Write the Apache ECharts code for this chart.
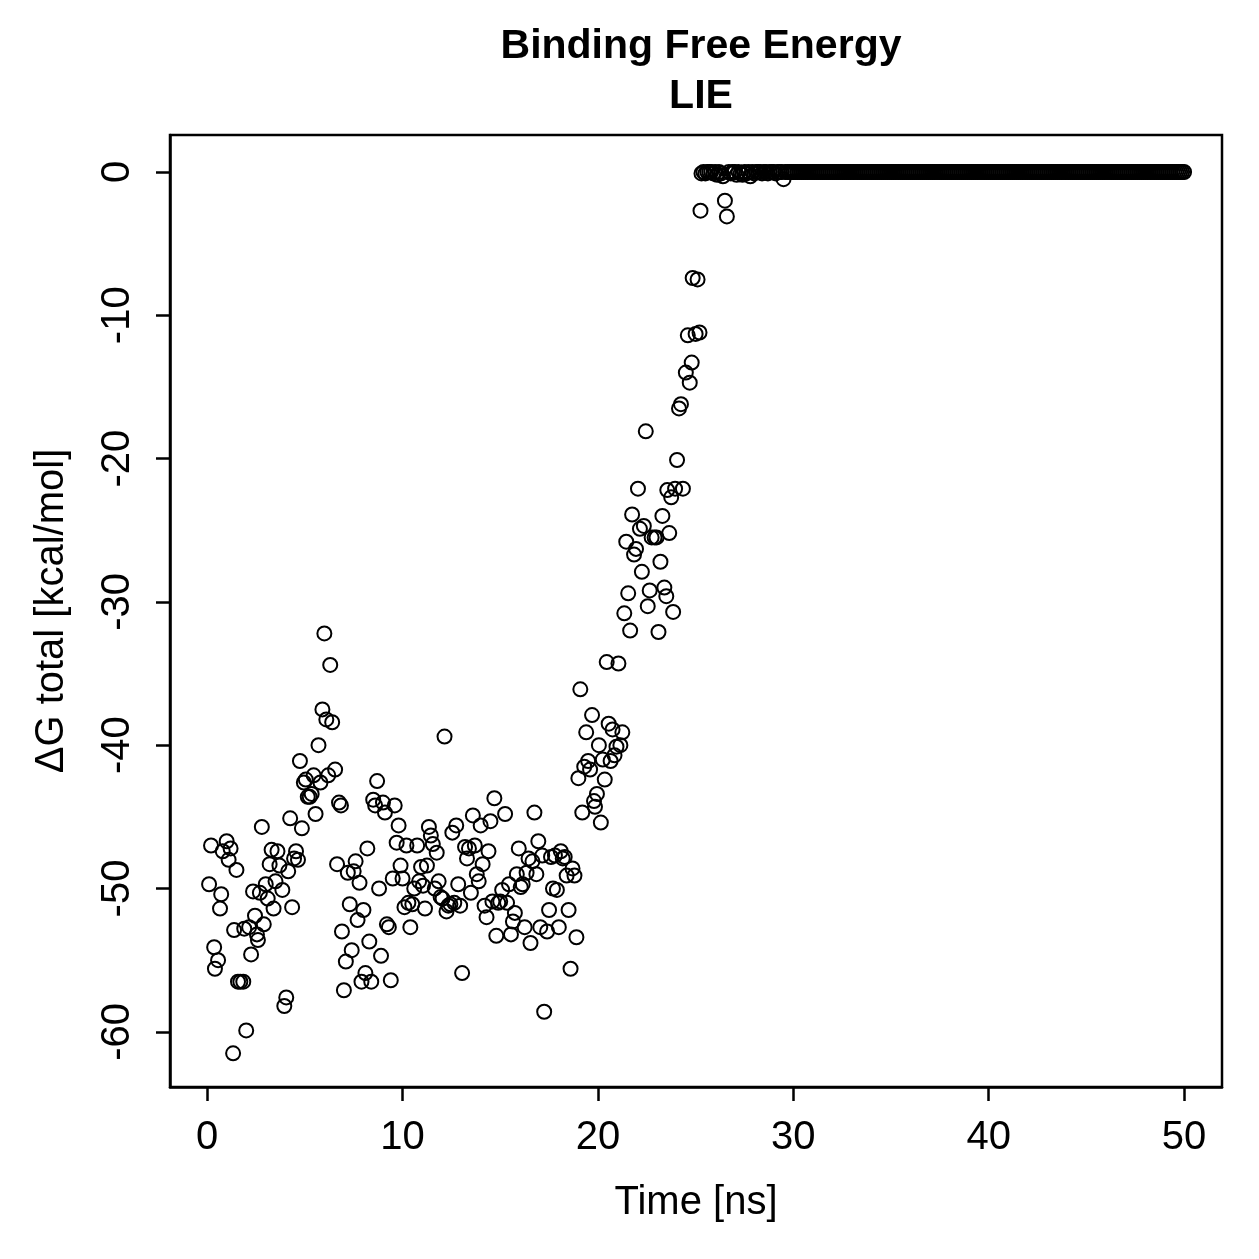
<!DOCTYPE html>
<html>
<head>
<meta charset="utf-8">
<script src="https://cdn.jsdelivr.net/npm/echarts@6/dist/echarts.min.js"></script>
<style>
  html, body { margin: 0; padding: 0; background: #fff; }
  #chart-container { width: 1259px; height: 1259px; }
</style>
</head>
<body>
<div id="chart-container"></div>
<script>
// sampled times [ns] of the unbinding part
var timeEarly = [
  0.1, 0.2, 0.36, 0.4, 0.56, 0.66, 0.72, 0.8, 1.0, 1.1,
  1.2, 1.33, 1.38, 1.5, 1.58, 1.7, 1.85, 1.9, 2.0, 2.15,
  2.25, 2.35, 2.45, 2.55, 2.6, 2.7, 2.8, 2.9, 3.0, 3.1,
  3.2, 3.3, 3.4, 3.5, 3.6, 3.7, 3.85, 3.95, 4.05, 4.15,
  4.25, 4.35, 4.45, 4.55, 4.65, 4.75, 4.85, 4.95, 5.05, 5.15,
  5.25, 5.35, 5.45, 5.55, 5.7, 5.8, 5.9, 6.0, 6.1, 6.2,
  6.3, 6.4, 6.55, 6.65, 6.75, 6.85, 6.9, 7.0, 7.1, 7.2,
  7.3, 7.4, 7.5, 7.6, 7.7, 7.8, 7.9, 8.0, 8.1, 8.2,
  8.3, 8.4, 8.5, 8.6, 8.7, 8.8, 8.9, 9.0, 9.1, 9.2,
  9.3, 9.4, 9.5, 9.6, 9.7, 9.8, 9.9, 10.0, 10.1, 10.2,
  10.3, 10.4, 10.5, 10.6, 10.75, 10.85, 10.95, 11.05, 11.15, 11.25,
  11.35, 11.45, 11.55, 11.65, 11.75, 11.85, 11.95, 12.05, 12.15, 12.25,
  12.35, 12.45, 12.55, 12.65, 12.75, 12.85, 12.95, 13.05, 13.2, 13.3,
  13.4, 13.5, 13.6, 13.7, 13.8, 13.9, 14.0, 14.1, 14.2, 14.3,
  14.4, 14.5, 14.6, 14.7, 14.8, 14.9, 15.0, 15.1, 15.25, 15.35,
  15.45, 15.55, 15.65, 15.75, 15.85, 15.95, 16.05, 16.15, 16.25, 16.35,
  16.45, 16.55, 16.65, 16.75, 16.85, 16.95, 17.05, 17.15, 17.25, 17.4,
  17.5, 17.6, 17.7, 17.8, 17.9, 18.0, 18.1, 18.2, 18.3, 18.4,
  18.5, 18.6, 18.7, 18.8, 18.9, 19.0, 19.1, 19.2, 19.3, 19.4,
  19.5, 19.6, 19.7, 19.8, 19.85, 19.95, 20.05, 20.15, 20.25, 20.35,
  20.45, 20.55, 20.65, 20.75, 20.85, 20.95, 21.05, 21.15, 21.25, 21.35,
  21.45, 21.55, 21.65, 21.75, 21.85, 21.95, 22.05, 22.15, 22.25, 22.35,
  22.45, 22.55, 22.65, 22.75, 22.9, 23.0, 23.1, 23.2, 23.3, 23.4,
  23.5, 23.55, 23.65, 23.75, 23.85, 23.95, 24.05, 24.15, 24.25, 24.35,
  24.5, 24.6, 24.7, 24.8, 24.85, 25.0, 25.1, 25.2, 25.25
];
var dGEarly = [
  -49.7, -47.0, -54.1, -55.6, -55.0, -51.4, -50.4, -47.4, -46.7, -48.0,
  -47.2, -61.5, -52.9, -48.7, -56.5, -56.5, -56.5, -52.8, -59.9, -52.7,
  -54.6, -50.2, -51.9, -53.2, -53.6, -50.3, -45.7, -52.5, -49.7, -50.7,
  -48.3, -47.3, -51.4, -49.5, -47.4, -48.4, -50.1, -58.2, -57.6, -48.8,
  -45.1, -51.3, -47.9, -47.4, -48.0, -41.1, -45.8, -42.6, -42.4, -43.6,
  -43.6, -43.4, -42.1, -44.8, -40.0, -42.6, -37.5, -32.2, -38.2, -42.1,
  -34.4, -38.4, -41.7, -48.3, -44.0, -44.2, -53.0, -57.1, -55.1, -48.9,
  -51.1, -54.3, -48.8, -48.1, -52.2, -49.6, -56.5, -51.5, -55.9, -47.2,
  -53.7, -56.5, -43.8, -44.2, -42.5, -50.0, -54.7, -44.0, -44.7, -52.5,
  -52.7, -56.4, -49.3, -44.2, -46.8, -45.6, -48.4, -49.3, -51.3, -47.0,
  -51.0, -52.7, -51.1, -50.0, -47.0, -49.5, -48.5, -49.8, -51.4, -48.4,
  -45.7, -46.3, -46.9, -50.0, -47.5, -49.5, -50.6, -50.7, -39.4, -51.6,
  -51.2, -51.1, -46.1, -51.0, -45.6, -49.7, -51.2, -55.9, -47.1, -47.9,
  -47.2, -50.3, -44.9, -47.0, -49.0, -49.5, -45.6, -48.3, -51.2, -52.0,
  -47.4, -45.3, -50.9, -43.7, -53.3, -51.0, -50.9, -50.1, -44.8, -51.0,
  -49.7, -53.2, -52.3, -51.7, -49.0, -47.2, -49.9, -49.7, -52.7, -48.9,
  -47.9, -53.8, -48.1, -44.7, -49.0, -46.7, -52.7, -47.7, -58.6, -53.0,
  -51.5, -47.8, -50.0, -47.7, -50.1, -52.7, -47.4, -47.9, -47.8, -49.1,
  -51.5, -55.6, -48.6, -49.1, -53.4, -42.3, -36.1, -44.7, -41.5, -39.1,
  -41.1, -41.7, -37.9, -43.9, -44.3, -43.4, -40.0, -45.4, -41.0, -42.4,
  -34.2, -38.5, -41.1, -38.9, -40.7, -40.1, -34.3, -40.0, -39.1, -30.8,
  -25.8, -29.4, -32.0, -23.9, -26.7, -26.3, -22.1, -24.9, -27.9, -24.7,
  -18.1, -30.3, -29.2, -25.5, -25.5, -25.5, -32.1, -27.2, -24.0, -29.0,
  -29.6, -22.2, -25.2, -22.7, -30.7, -22.1, -20.1, -16.5, -16.2, -22.1,
  -14.0, -11.4, -14.7, -13.3, -7.4, -11.3, -7.5, -11.2, -2.7
];
// after unbinding: one frame every 0.1 ns from 25.3 ns to 50 ns
var tailStart = 25.3;
var tailStep = 0.1;
var dGTail = [
  -0.1, 0, -0.1, 0, 0, 0, -0.1, 0, -0.2, 0,
  -0.1, -0.3, -2.0, -3.1, 0, -0.1, 0, 0, -0.2, 0,
  -0.1, -0.2, 0, -0.1, 0, -0.3, 0, -0.1, 0, 0,
  0, -0.1, 0, 0, -0.1, 0, 0, 0, -0.1, 0,
  0, 0, -0.5,
  0, 0, 0, 0, 0, 0, 0, 0, 0, 0,
  0, 0, 0, 0, 0, 0, 0, 0, 0, 0,
  0, 0, 0, 0, 0, 0, 0, 0, 0, 0,
  0, 0, 0, 0, 0, 0, 0, 0, 0, 0,
  0, 0, 0, 0, 0, 0, 0, 0, 0, 0,
  0, 0, 0, 0, 0, 0, 0, 0, 0, 0,
  0, 0, 0, 0, 0, 0, 0, 0, 0, 0,
  0, 0, 0, 0, 0, 0, 0, 0, 0, 0,
  0, 0, 0, 0, 0, 0, 0, 0, 0, 0,
  0, 0, 0, 0, 0, 0, 0, 0, 0, 0,
  0, 0, 0, 0, 0, 0, 0, 0, 0, 0,
  0, 0, 0, 0, 0, 0, 0, 0, 0, 0,
  0, 0, 0, 0, 0, 0, 0, 0, 0, 0,
  0, 0, 0, 0, 0, 0, 0, 0, 0, 0,
  0, 0, 0, 0, 0, 0, 0, 0, 0, 0,
  0, 0, 0, 0, 0, 0, 0, 0, 0, 0,
  0, 0, 0, 0, 0, 0, 0, 0, 0, 0,
  0, 0, 0, 0, 0, 0, 0, 0, 0, 0,
  0, 0, 0, 0, 0, 0, 0, 0, 0, 0,
  0, 0, 0, 0, 0, 0, 0, 0, 0, 0,
  0, 0, 0, 0, 0
];
var xTicks = [0, 10, 20, 30, 40, 50];
var yTicks = [-60, -50, -40, -30, -20, -10, 0];

var points = [];
for (var i = 0; i < timeEarly.length; i++) {
  points.push([timeEarly[i], dGEarly[i]]);
}
for (var j = 0; j < dGTail.length; j++) {
  points.push([+(tailStart + j * tailStep).toFixed(2), dGTail[j]]);
}

var dom = document.getElementById('chart-container');
var myChart = echarts.init(dom, null, { renderer: 'canvas' });
var font = 'Liberation Sans';

var option = {
  animation: false,
  backgroundColor: '#fff',
  title: {
    text: 'Binding Free Energy\nLIE',
    left: 696,
    top: 17,
    textAlign: 'center',
    textStyle: {
      fontFamily: font,
      fontWeight: 'bold',
      fontSize: 41,
      lineHeight: 50,
      color: '#000'
    }
  },
  grid: {
    left: 170,
    top: 135,
    width: 1052,
    height: 952,
    show: true,
    borderColor: '#000',
    borderWidth: 2.5,
    backgroundColor: 'transparent'
  },
  xAxis: {
    type: 'value',
    min: -1.9,
    max: 51.94,
    name: 'Time [ns]',
    nameLocation: 'middle',
    nameGap: 96,
    nameTextStyle: { fontFamily: font, fontSize: 40, color: '#000' },
    splitLine: { show: false },
    axisLine: { show: true, onZero: false, lineStyle: { color: '#000', width: 2.5 } },
    axisTick: {
      show: true,
      customValues: xTicks,
      length: 14,
      lineStyle: { color: '#000', width: 2.5 }
    },
    axisLabel: {
      customValues: xTicks,
      margin: 31,
      fontFamily: font,
      fontSize: 40,
      color: '#000'
    }
  },
  yAxis: {
    type: 'value',
    min: -63.85,
    max: 2.58,
    name: '\u0394G total [kcal/mol]',
    nameLocation: 'middle',
    nameRotate: 90,
    nameGap: 98,
    nameTextStyle: { fontFamily: font, fontSize: 40, color: '#000' },
    splitLine: { show: false },
    axisLine: { show: true, onZero: false, lineStyle: { color: '#000', width: 2.5 } },
    axisTick: {
      show: true,
      customValues: yTicks,
      length: 14,
      lineStyle: { color: '#000', width: 2.5 }
    },
    axisLabel: {
      customValues: yTicks,
      rotate: 90,
      margin: 32,
      fontFamily: font,
      fontSize: 40,
      color: '#000'
    }
  },
  series: [
    {
      type: 'scatter',
      data: points,
      symbol: 'circle',
      symbolSize: 14,
      silent: true,
      itemStyle: {
        color: 'transparent',
        borderColor: '#000',
        borderWidth: 2,
        opacity: 1
      }
    }
  ]
};

myChart.setOption(option);
window.addEventListener('resize', myChart.resize);
</script>
</body>
</html>
